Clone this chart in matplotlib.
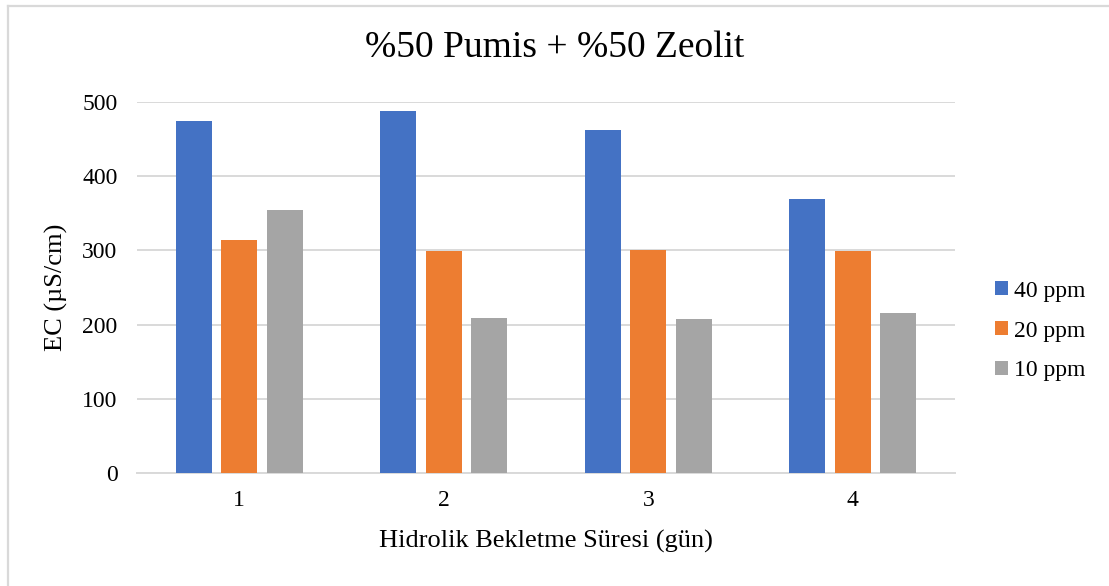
import matplotlib
matplotlib.use("Agg")
import matplotlib.pyplot as plt
import numpy as np
from matplotlib.lines import Line2D

categories = ["1", "2", "3", "4"]
series_names = ["40 ppm", "20 ppm", "10 ppm"]
ppm40 = [474, 487, 462, 369]
ppm20 = [314, 299, 301, 299]
ppm10 = [354, 209, 207, 216]
colors = ["#4472C4", "#ED7D31", "#A5A5A5"]

plt.rcParams['font.family'] = ['Liberation Serif', 'DejaVu Serif']

W, H = 1109, 586
fig = plt.figure(figsize=(W/100, H/100), dpi=100)
ax = fig.add_axes([137/W, 1-473.3/H, (955-137)/W, (473.3-101.7)/H])

x = np.arange(len(categories))
w = 0.176
off = 0.222
for i, (vals, name, c) in enumerate(zip([ppm40, ppm20, ppm10], series_names, colors)):
    ax.bar(x + (i-1)*off, vals, width=w, color=c, label=name, zorder=3)

ax.set_xlim(-0.5, 3.5)
ax.set_ylim(0, 500)
ax.set_yticks(range(0, 501, 100))
ax.set_xticks(x)
ax.set_xticklabels(categories)
ax.yaxis.grid(True, color="#d9d9d9", linewidth=1.4, zorder=0)
ax.set_axisbelow(True)
for s in ["top", "right", "left"]:
    ax.spines[s].set_visible(False)
ax.spines["bottom"].set_color("#d9d9d9")
ax.spines["bottom"].set_linewidth(1.4)
ax.tick_params(axis="both", length=0, labelsize=17, colors="#000000")
ax.tick_params(axis="y", pad=14)
ax.tick_params(axis="x", pad=12)

ax.set_xlabel("Hidrolik Bekletme Süresi (gün)", fontsize=19, va="center")
ax.xaxis.set_label_coords(0.5, (473.3-541)/371.6)
ax.set_ylabel("EC (µS/cm)", fontsize=19, va="center")
ax.yaxis.set_label_coords((56-137)/818, (473.3-287)/371.6)

fig.text((555)/W, 1-48/H, "%50 Pumis + %50 Zeolit", ha="center", va="center", fontsize=27)

ax.legend(loc="center left", bbox_to_anchor=(995/W, 1-331/H), bbox_transform=fig.transFigure,
          frameon=False, fontsize=17, borderpad=0, borderaxespad=0,
          handlelength=0.55, handleheight=0.55, handletextpad=0.25, labelspacing=0.8)

fig.add_artist(Line2D([8/W, 1], [1-5.5/H, 1-5.5/H], transform=fig.transFigure,
                      color="#d9d9d9", linewidth=1.6))
fig.add_artist(Line2D([8/W, 8/W], [0, 1-5.5/H], transform=fig.transFigure,
                      color="#d9d9d9", linewidth=1.6))

fig.savefig("out.png", dpi=100)
